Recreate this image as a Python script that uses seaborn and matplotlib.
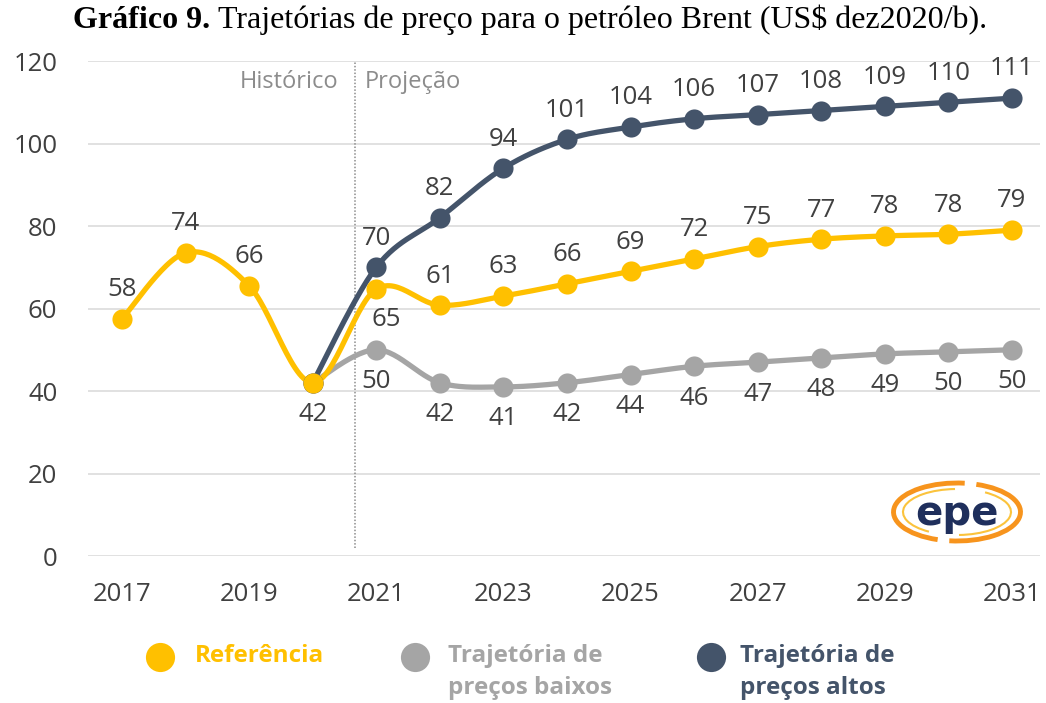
import numpy as np
import pandas as pd
import matplotlib
matplotlib.use("Agg")
import matplotlib.pyplot as plt
import seaborn as sns
from matplotlib.lines import Line2D
from matplotlib.patches import Arc

# ---------------- data ----------------
years_ref = [2017, 2018, 2019, 2020, 2021, 2022, 2023, 2024, 2025, 2026, 2027, 2028, 2029, 2030, 2031]
ref_vals = [57.5, 73.5, 65.5, 42, 64.7, 60.8, 63, 66, 69, 72, 75, 76.8, 77.6, 78, 79]
ref_labels = ["58", "74", "66", "42", "65", "61", "63", "66", "69", "72", "75", "77", "78", "78", "79"]

years_proj = [2020, 2021, 2022, 2023, 2024, 2025, 2026, 2027, 2028, 2029, 2030, 2031]
low_vals = [42, 50, 42, 41, 42, 44, 46, 47, 48, 49, 49.5, 50]
low_labels = ["", "50", "42", "41", "42", "44", "46", "47", "48", "49", "50", "50"]
high_vals = [42, 70, 82, 94, 101, 104, 106, 107, 108, 109, 110, 111]
high_labels = ["", "70", "82", "94", "101", "104", "106", "107", "108", "109", "110", "111"]

series_names = ["Referência", "Trajetória de\npreços baixos", "Trajetória de\npreços altos"]
xticks = [2017, 2019, 2021, 2023, 2025, 2027, 2029, 2031]
yticks = [0, 20, 40, 60, 80, 100, 120]

C_REF = "#FFC000"
C_LOW = "#A5A5A5"
C_HIGH = "#44546A"
C_TXT = "#404040"

FONT = "Open Sans"
sns.set_theme(style="white")
plt.rcParams["font.family"] = [FONT, "DejaVu Sans"]


def smooth(x, y, n=30):
    """Excel-like smoothed line (Catmull-Rom Bezier) for drawing only."""
    x = np.asarray(x, float)
    y = np.asarray(y, float)
    P = np.column_stack([x, y])
    out = []
    for i in range(len(P) - 1):
        p0 = P[i - 1] if i > 0 else P[i]
        p1 = P[i]
        p2 = P[i + 1]
        p3 = P[i + 2] if i + 2 < len(P) else P[i + 1]
        b1 = p1 + (p2 - p0) / 6.0
        b2 = p2 - (p3 - p1) / 6.0
        t = np.linspace(0, 1, n)[:, None]
        seg = ((1 - t) ** 3) * p1 + 3 * ((1 - t) ** 2) * t * b1 + 3 * (1 - t) * t ** 2 * b2 + t ** 3 * p2
        out.append(seg if i == 0 else seg[1:])
    s = np.vstack(out)
    return s[:, 0], s[:, 1]


fig = plt.figure(figsize=(10.46, 7.03), dpi=100)
ax = fig.add_axes([0.0841, 0.2091, 0.9101, 0.7041])

LW = 3.8
MS = 210

for yrs, vals, col in [(years_proj, low_vals, C_LOW), (years_proj, high_vals, C_HIGH), (years_ref, ref_vals, C_REF)]:
    sx, sy = smooth(yrs, vals)
    df = pd.DataFrame({"x": sx, "y": sy})
    sns.lineplot(data=df, x="x", y="y", sort=False, color=col, linewidth=LW, ax=ax, zorder=3)
    sns.scatterplot(x=yrs, y=vals, color=col, s=MS, linewidth=0, ax=ax, zorder=4)

ax.set_xlim(2016.465, 2031.44)
ax.set_ylim(0, 120)
ax.set_xticks(xticks)
ax.set_yticks(yticks)
ax.set_xticklabels([str(v) for v in xticks])
ax.set_yticklabels([str(v) for v in yticks])
ax.tick_params(axis="both", length=0, labelsize=18.5, colors=C_TXT)
ax.tick_params(axis="x", pad=19)
ax.tick_params(axis="y", pad=22)
ax.set_xlabel("")
ax.set_ylabel("")
for sp in ax.spines.values():
    sp.set_visible(False)
ax.grid(axis="y", color="#D9D9D9", linewidth=1.1)
ax.grid(axis="x", visible=False)
ax.set_axisbelow(True)

# vertical divider
ax.plot([2020.67, 2020.67], [2, 120], color="#8C8C8C", linestyle=(0, (1, 1.2)), linewidth=1.1, zorder=2)
ax.text(2020.67 - 0.27, 114.9, "Histórico", ha="right", va="center", fontsize=17, color="#8C8C8C")
ax.text(2020.67 + 0.15, 114.9, "Projeção", ha="left", va="center", fontsize=17, color="#8C8C8C")

# data labels
LBL = 18.5
UP = 21
DN = -23


def lab(x, y, t, dy, dx=0):
    if t:
        ax.annotate(t, (x, y), xytext=(dx, dy), textcoords="offset points", ha="center", va="center",
                    fontsize=LBL, color=C_TXT, zorder=6, annotation_clip=False)


for x, v, t in zip(years_ref, ref_vals, ref_labels):
    if x == 2020:
        lab(x, v, t, DN)
    elif x == 2021:
        lab(x, v, t, DN + 1, dx=7)
    else:
        lab(x, v, t, UP)
for x, v, t in zip(years_proj, low_vals, low_labels):
    lab(x, v, t, DN)
for x, v, t in zip(years_proj, high_vals, high_labels):
    lab(x, v, t, UP)

# title
fig.text(210 / 1046, 1 - 28 / 703, "Gráfico 9.", ha="right", va="baseline", fontsize=23,
         fontweight="bold", family="Liberation Serif", color="black")
fig.text(218 / 1046, 1 - 28 / 703, "Trajetórias de preço para o petróleo Brent (US$ dez2020/b).",
         ha="left", va="baseline", fontsize=23, family="Liberation Serif", color="black")

# legend
leg = [(160, 195, C_REF, series_names[0]), (415, 448, C_LOW, series_names[1]), (711, 740, C_HIGH, series_names[2])]
for cx, tx, col, name in leg:
    fig.add_artist(Line2D([cx / 1046], [1 - 657 / 703], marker="o", markersize=21, color=col,
                          markeredgewidth=0, transform=fig.transFigure))
    for k, ln in enumerate(name.split("\n")):
        fig.text(tx / 1046, 1 - (656 + 32 * k) / 703, ln, ha="left", va="center", fontsize=17.5,
                 fontweight="bold", color=col)

# epe logo (approximation)
LX, LY = 957, 703 - 512
fig.text(LX / 1046, 1 - 514 / 703, "epe", ha="center", va="center", fontsize=29, fontweight="bold",
         color="#1F2F5C", family="DejaVu Sans")
fig.add_artist(Arc((LX, LY), 127, 58, theta1=75, theta2=235, color="#F7941D", linewidth=3.5, transform=None))
fig.add_artist(Arc((LX, LY), 127, 58, theta1=-105, theta2=55, color="#F7941D", linewidth=3.5, transform=None))
fig.add_artist(Arc((LX, LY), 108, 46, theta1=95, theta2=215, color="#FBC33C", linewidth=1.5, transform=None))
fig.add_artist(Arc((LX, LY), 108, 46, theta1=-85, theta2=35, color="#FBC33C", linewidth=1.5, transform=None))

fig.savefig("out.png", dpi=100, facecolor="white")
